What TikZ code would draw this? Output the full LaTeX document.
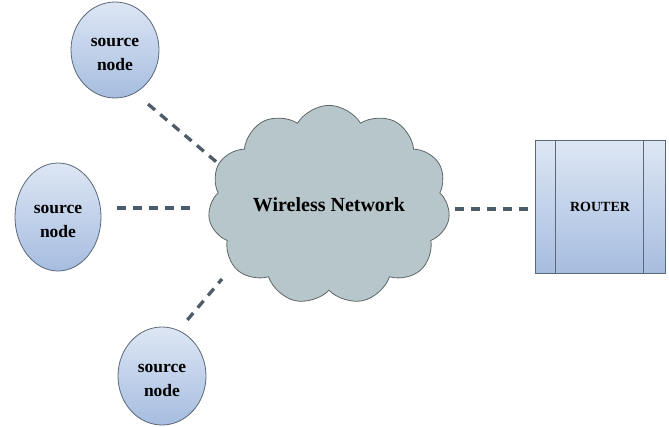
\documentclass[tikz,border=0pt]{standalone}
\usepackage{fontspec}
\setmainfont{Liberation Serif}
\usetikzlibrary{shapes.geometric,shapes.symbols,calc}
\definecolor{nodetop}{HTML}{DDE6F4}
\definecolor{nodebot}{HTML}{A6BDE0}
\definecolor{nodeline}{HTML}{5A6878}
\definecolor{cloudfill}{HTML}{B7C6CA}
\definecolor{cloudline}{HTML}{5E6668}
\definecolor{dashcol}{HTML}{4E5B68}
\tikzset{
  srcnode/.style={ellipse, draw=nodeline, line width=0.8pt, top color=nodetop, bottom color=nodebot,
    minimum width=88pt, minimum height=96pt, inner sep=0pt, align=center,
    font=\fontsize{17.5}{24}\selectfont\bfseries},
  srctext/.style={align=center, inner sep=0pt, font=\fontsize{17.5}{24}\selectfont\bfseries},
  netcloud/.style={cloud, cloud puffs=11, cloud puff arc=118, aspect=1.25, draw=cloudline, line width=0.8pt,
    fill=cloudfill, minimum width=242pt, minimum height=182pt, inner sep=0pt,
    font=\fontsize{20}{24}\selectfont\bfseries},
  routerbox/.style={rectangle, draw=nodeline, line width=0.9pt, top color=nodetop, bottom color=nodebot,
    minimum width=130pt, minimum height=133pt, inner sep=0pt, font=\fontsize{14}{17}\selectfont\bfseries},
  link/.style={draw=dashcol, line width=3.3pt, dash pattern=on 9pt off 7pt}
}
\begin{document}
\begin{tikzpicture}[x=1pt,y=-1pt]
\useasboundingbox (0,0) rectangle (669,427);
\node[srcnode] (n1) at (115,50) {};
\node[srcnode, minimum width=86pt, minimum height=108pt] (n2) at (58,217) {};
\node[srcnode, minimum height=98pt] (n3) at (162,376) {};
\node[srctext] (t1) at ([yshift=-4pt]n1.center) {source\\node};
\node[srctext] (t2) at ([yshift=-4pt]n2.center) {source\\node};
\node[srctext] (t3) at ([yshift=-4pt]n3.center) {source\\node};
\node[netcloud] (cloud) at (329,205) {Wireless Network};
\node[routerbox] (router) at (600,207) {ROUTER};
\draw[nodeline, line width=0.9pt] ([xshift=21pt]router.north west) -- ([xshift=21pt]router.south west);
\draw[nodeline, line width=0.9pt] ([xshift=-22pt]router.north east) -- ([xshift=-22pt]router.south east);
\coordinate (c1) at (220,165);
\coordinate (c2) at (193,208);
\coordinate (c3) at (222,279);
\coordinate (c4) at (455,209);
\coordinate (c5) at (530,209);
\draw[link, shorten <=17pt] (n1.-65) -- (c1);
\draw[link, shorten <=16pt] (n2.east |- c2) -- (c2);
\draw[link, shorten <=13.5pt] (n3.70) -- (c3);
\draw[link] (c4) -- (c5);
\end{tikzpicture}
\end{document}
